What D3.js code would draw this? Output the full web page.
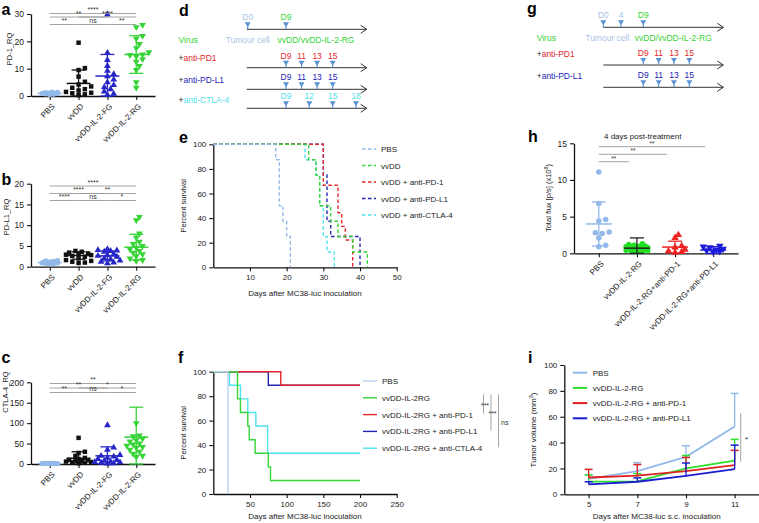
<!DOCTYPE html>
<html><head><meta charset="utf-8">
<script src="https://cdn.jsdelivr.net/npm/d3@7"></script>
<style>
body{margin:0;background:#fff;}
svg{display:block;}
</style></head><body>
<svg id="chart" width="759" height="523"></svg>
<script>
// ======================= DATA =======================
const catsABC = ["PBS", "vvDD", "vvDD-IL-2-FG", "vvDD-IL-2-RG"];

// panel a : PD-1_RQ
const aTicks = [0, 10, 20, 30];
const aPBS  = [0.5, 0.6, 0.7, 0.8, 0.9, 0.9, 1.0, 1.0, 1.1, 1.1, 1.2, 1.3, 1.4, 1.5];
const aVVDD = [19.5, 10.2, 9.5, 7.1, 5.2, 4.2, 3.5, 3.0, 2.5, 2.0, 1.5, 1.2, 1.0, 0.6, 0.3];
const aFG   = [29.8, 15.8, 13.2, 11.0, 9.2, 8.0, 7.2, 6.0, 5.0, 4.0, 3.2, 2.5, 1.6, 0.8, 0.4];
const aRG   = [26, 25.2, 22, 21, 19, 17.5, 16, 15.2, 15, 14.5, 13.5, 12.5, 11, 9.5, 5, 3];
const aMean = [1.0, 4.6, 7.3, 15.2];
const aSD   = [0.3, 4.9, 7.9, 6.9];
const aSigFrom = [0, 0, 1, 0, 1, 2];
const aSigTo   = [3, 2, 3, 1, 2, 3];
const aSigLvl  = [0, 1, 1, 2, 2, 2];
const aSigText = ["****", "**", "****", "**", "ns", "**"];

// panel b : PD-L1_RQ
const bTicks = [0, 5, 10, 15, 20];
const bPBS  = [0.6, 0.7, 0.8, 0.9, 0.9, 1.0, 1.0, 1.1, 1.1, 1.2, 1.3, 1.4, 1.5];
const bVVDD = [3.8, 3.6, 3.4, 3.2, 3.0, 2.9, 2.8, 2.6, 2.4, 2.0, 1.6, 1.4, 1.2, 1.0, 0.9];
const bFG   = [4.2, 4.0, 3.9, 3.8, 3.6, 3.0, 2.8, 2.6, 2.4, 2.0, 1.8, 1.5, 1.2, 1.0, 0.8];
const bRG   = [12.0, 11.2, 8.0, 7.0, 6.0, 5.5, 5.0, 4.6, 4.2, 3.8, 3.4, 3.0, 2.5, 2.0, 1.6, 1.4];
const bMean = [1.0, 2.7, 2.6, 4.7];
const bSD   = [0.3, 0.9, 1.2, 3.1];
const bSigFrom = [0, 0, 1, 0, 1, 2];
const bSigTo   = [3, 2, 3, 1, 2, 3];
const bSigLvl  = [0, 1, 1, 2, 2, 2];
const bSigText = ["****", "****", "**", "****", "ns", "*"];

// panel c : CTLA-4_RQ
const cTicks = [0, 50, 100, 150, 200];
const cPBS  = [0.5, 0.8, 1.0, 1.0, 1.2, 1.5, 2.0, 0.7, 1.1, 1.3, 0.9, 1.6];
const cVVDD = [64, 30, 27, 20, 15, 12, 10, 9, 8, 7, 6, 5, 4, 3, 2];
const cFG   = [95, 40, 35, 22, 20, 18, 15, 12, 10, 8, 6, 5, 4, 3, 2, 1];
const cRG   = [100, 70, 68, 62, 58, 55, 50, 48, 45, 42, 40, 35, 30, 25, 20, 17];
const cMean = [1.0, 14, 20, 66];
const cSD   = [0.5, 16, 22, 73];
const cSigFrom = [0, 0, 1, 0, 1, 2];
const cSigTo   = [3, 2, 3, 1, 2, 3];
const cSigLvl  = [0, 1, 1, 2, 2, 2];
const cSigText = ["**", "**", "*", "**", "ns", "*"];

// panel d : treatment schedule
const dRow0Days = [0, 9];      const dRow0Labels = ["D0", "D9"];
const dPD1Days  = [9, 11, 13, 15]; const dPD1Labels  = ["D9", "11", "13", "15"];
const dPDL1Days = [9, 11, 13, 15]; const dPDL1Labels = ["D9", "11", "13", "15"];
const dCTLADays = [9, 12, 15, 18]; const dCTLALabels = ["D9", "12", "15", "18"];

// panel e : survival, vvDD combos  [day, percent]
const eNames = ["PBS", "vvDD", "vvDD + anti-PD-1", "vvDD + anti-PD-L1", "vvDD + anti-CTLA-4"];
const eXTicks = [0, 10, 20, 30, 40, 50];
const ePBS  = [[0,100],[17,87.5],[18,50],[19,37.5],[20,25],[21,0]];
const eVVDD = [[0,100],[26,87.5],[28,75],[29,50],[32,37.5],[34,25],[38,12.5],[42,0]];
const ePD1  = [[0,100],[30,66.7],[34,44.4],[35,33.3],[36,22.2],[38,0]];
const ePDL1 = [[0,100],[30,75],[31,37.5],[32,25],[40,0]];
const eCTLA = [[0,100],[25,87.5],[28,75],[29,50],[30,25],[31,12.5],[33,0]];

// panel f : survival, vvDD-IL-2RG combos
const fNames = ["PBS", "vvDD-IL-2RG", "vvDD-IL-2RG + anti-PD-1", "vvDD-IL-2RG + anti-PD-L1", "vvDD-IL-2RG + anti-CTLA-4"];
const fXTicks = [0, 50, 100, 150, 200, 250];
const fPBS  = [[0,100],[20,0]];
const fRG   = [[0,100],[33,77.8],[37,66.7],[47,55.6],[49,44.4],[57,33.3],[75,22.2],[78,11.1],[200,11.1]];
const fPD1  = [[0,100],[92,88.9],[200,88.9]];
const fPDL1 = [[0,100],[75,88.9],[200,88.9]];
const fCTLA = [[0,100],[22,88.9],[37,77.8],[47,66.7],[58,55.6],[74,33.3],[200,33.3]];
const fSigTo   = [2, 3, 4];
const fSigText = ["***", "***", "ns"];

// panel g : schedule
const gRow0Days = [0, 4, 9];   const gRow0Labels = ["D0", "4", "D9"];
const gPD1Days  = [9, 11, 13, 15]; const gPD1Labels  = ["D9", "11", "13", "15"];
const gPDL1Days = [9, 11, 13, 15]; const gPDL1Labels = ["D9", "11", "13", "15"];

// panel h : total flux
const hCats = ["PBS", "vvDD-IL-2-RG", "vvDD-IL-2-RG+anti-PD-1", "vvDD-IL-2-RG+anti-PD-L1"];
const hTicks = [0, 5, 10, 15];
const hPBS  = [11.1, 6.8, 4.6, 4.4, 2.9, 2.8, 2.7, 2.1, 1.1, 0.9];
const hRG   = [1.3, 1.2, 1.1, 1.0, 0.95, 0.9, 0.85, 0.8, 0.7, 0.65, 0.6, 0.55, 0.5, 0.45, 0.4, 0.35, 0.3, 0.25, 0.2];
const hPD1  = [2.5, 2.1, 1.0, 0.8, 0.5, 0.3, 0.2, 0.1];
const hPDL1 = [1.0, 0.9, 0.8, 0.6, 0.5, 0.4, 0.3, 0.2];
const hMean = [4.0, 0.7, 0.85, 0.45];
const hSD   = [3.0, 1.4, 0.8, 0.45];
const hSigFrom = [0, 0, 0];
const hSigTo   = [3, 2, 1];
const hSigLvl  = [0, 1, 2];
const hSigText = ["**", "**", "**"];

// panel i : tumour volume
const iNames = ["PBS", "vvDD-IL-2-RG", "vvDD-IL-2-RG + anti-PD-1", "vvDD-IL-2-RG + anti-PD-L1"];
const iDays = [5, 7, 9, 11];
const iYTicks = [0, 20, 40, 60, 80, 100];
const iPBS   = [12, 18, 29, 52.5];   const iPBSErr  = [3, 6.5, 8.5, 25.5];
const iRG    = [9.8, 10, 20, 26];    const iRGErr   = [5.2, 6, 10, 16.5];
const iPD1   = [13, 14.4, 18, 22.6]; const iPD1Err  = [6.3, 8.6, 10.5, 11.4];
const iPDL1  = [7.7, 9.7, 14.2, 19.4]; const iPDL1Err = [2, 3, 10, 18.6];

// ======================= STYLE =======================
const FONT = "'Liberation Sans', Arial, Helvetica, sans-serif";
const C = {
  pbs: "#92b9ea", black: "#111111", blue: "#2626c8", green: "#36d436",
  red: "#e3262b", dblue: "#2424b4", cyan: "#4fe2ee", mark: "#5a92d4",
  tumour: "#a7c3e6", grey: "#9a9a9a", pbsF: "#b9d3f0"
};
const svg = d3.select("#chart").style("font-family", FONT);

function styleAxis(sel, fs) {
  sel.attr("font-family", null).attr("font-size", null);
  sel.select(".domain").attr("stroke", "#111").attr("stroke-width", 1.3);
  sel.selectAll(".tick line").attr("stroke", "#111").attr("stroke-width", 1.1);
  sel.selectAll(".tick text").attr("fill", "#222").style("font-size", fs + "px").style("font-family", FONT);
}
function text(g, x, y, s, fs, fill, anchor, weight) {
  return g.append("text").attr("x", x).attr("y", y).text(s)
    .style("font-size", fs + "px").attr("fill", fill || "#222")
    .attr("text-anchor", anchor || "start").style("font-weight", weight || "normal");
}
function panelLetter(x, y, s) { text(svg, x, y, s, 16, "#000", "start", "bold"); }

function dodge(vals, y, r, maxOff) {
  const order = d3.range(vals.length).sort((a, b) => vals[a] - vals[b]);
  const placed = [], off = [];
  order.forEach(i => {
    const py = y(vals[i]);
    let best = 0, bestD = -1;
    for (let k = 0; k < 60; k++) {
      const dx = (k === 0 ? 0 : (k % 2 ? 1 : -1) * Math.ceil(k / 2)) * r * 0.75;
      if (Math.abs(dx) > maxOff) break;
      const dmin = placed.length ? d3.min(placed, p => Math.hypot(p.dx - dx, p.py - py)) : Infinity;
      if (dmin >= r) { best = dx; bestD = Infinity; break; }
      if (dmin > bestD) { bestD = dmin; best = dx; }
    }
    off[i] = best; placed.push({ dx: best, py });
  });
  return off;
}

// ======================= DOT PLOTS =======================
function dotPlot(o) {
  const g = svg.append("g");
  const x = d3.scalePoint().domain(o.cats).range([o.left, o.right]).padding(0.65);
  const y = d3.scaleLinear().domain([0, o.ticks[o.ticks.length - 1]]).range([o.bottom, o.top]);
  const ya = g.append("g").attr("transform", `translate(${o.left},0)`)
    .call(d3.axisLeft(y).tickValues(o.ticks).tickSize(4).tickSizeOuter(0).tickPadding(3));
  styleAxis(ya, 8.5);
  const xa = g.append("g").attr("transform", `translate(0,${o.bottom})`)
    .call(d3.axisBottom(x).tickSize(4).tickSizeOuter(0));
  styleAxis(xa, o.xfs || 8);
  xa.selectAll(".tick text").attr("x", 0).attr("y", 0).attr("dy", "0.35em")
    .attr("transform", "translate(3,9) rotate(-45)").style("text-anchor", "end");
  g.append("text").attr("transform", `translate(${o.ylabX},${o.ylabY}) rotate(-90)`)
    .attr("text-anchor", "middle").style("font-size", (o.ylabFs || 7.5) + "px").attr("fill", "#222")
    .call(t => { if (o.ylabParts) { o.ylabParts(t); } else t.text(o.ylab); });

  o.values.forEach((vals, i) => {
    const cx = x(o.cats[i]);
    const offs = dodge(vals, y, o.dodgeR[i], o.maxOff[i]);
    const sym = d3.symbol().type(o.shapes[i]).size(o.msize);
    g.append("g").selectAll("path").data(vals).join("path")
      .attr("d", sym)
      .attr("transform", (d, j) => `translate(${cx + offs[j]},${y(d)})${o.flip[i] ? " rotate(180)" : ""}`)
      .attr("fill", o.colors[i]);
    const m = o.mean[i], s = o.sd[i];
    const lo = y(Math.max(0, m - s)), hi = y(m + s);
    const ec = o.errColors ? o.errColors[i] : o.colors[i];
    const eg = g.append("g").attr("stroke", ec).attr("stroke-width", 1.3);
    eg.append("line").attr("x1", cx).attr("x2", cx).attr("y1", lo).attr("y2", hi);
    eg.append("line").attr("x1", cx - o.capW).attr("x2", cx + o.capW).attr("y1", hi).attr("y2", hi);
    eg.append("line").attr("x1", cx - o.capW).attr("x2", cx + o.capW).attr("y1", lo).attr("y2", lo);
    eg.append("line").attr("x1", cx - o.meanW).attr("x2", cx + o.meanW).attr("y1", y(m)).attr("y2", y(m)).attr("stroke-width", 1.5);
  });

  const sg = g.append("g");
  o.sigFrom.forEach((f, k) => {
    const x1 = x(o.cats[f]), x2 = x(o.cats[o.sigTo[k]]) - (o.sigTrim || 0);
    const ly = o.sigY[o.sigLvl[k]];
    sg.append("line").attr("x1", x1).attr("x2", x2).attr("y1", ly).attr("y2", ly)
      .attr("stroke", C.grey).attr("stroke-width", 0.9);
    text(sg, (x1 + x2) / 2, ly - 1.2, o.sigText[k], o.sigFs || 7, "#333", "middle");
  });
  return { x, y, g };
}

const abcCommon = {
  cats: catsABC, left: 31, right: 155,
  shapes: [d3.symbolCircle, d3.symbolSquare, d3.symbolTriangle, d3.symbolTriangle],
  flip: [false, false, false, true],
  colors: [C.pbs, C.black, C.blue, C.green],
  dodgeR: [2.6, 4.2, 4.2, 4.2], maxOff: [9, 13, 13, 13],
  msize: 20, capW: 7, meanW: 12
};

dotPlot(Object.assign({}, abcCommon, {
  top: 14, bottom: 96, ticks: aTicks, values: [aPBS, aVVDD, aFG, aRG], mean: aMean, sd: aSD,
  ylab: "PD-1_RQ", ylabX: 12, ylabY: 49,
  sigFrom: aSigFrom, sigTo: aSigTo, sigLvl: aSigLvl, sigText: aSigText, sigY: [13.5, 17, 24.5]
}));
dotPlot(Object.assign({}, abcCommon, {
  top: 183.7, bottom: 266.7, ticks: bTicks, values: [bPBS, bVVDD, bFG, bRG], mean: bMean, sd: bSD,
  ylab: "PD-L1_RQ", ylabX: 9, ylabY: 217,
  sigFrom: bSigFrom, sigTo: bSigTo, sigLvl: bSigLvl, sigText: bSigText, sigY: [186, 193.5, 200.5]
}));
dotPlot(Object.assign({}, abcCommon, {
  top: 382.3, bottom: 464, ticks: cTicks, values: [cPBS, cVVDD, cFG, cRG], mean: cMean, sd: cSD,
  ylab: "CTLA-4_RQ", ylabX: 8, ylabY: 392,
  sigFrom: cSigFrom, sigTo: cSigTo, sigLvl: cSigLvl, sigText: cSigText, sigY: [383.5, 388, 392.5]
}));

// panel h
dotPlot({
  cats: hCats, left: 574, right: 738, top: 143.3, bottom: 253.3, ticks: hTicks,
  values: [hPBS, hRG, hPD1, hPDL1], mean: hMean, sd: hSD,
  shapes: [d3.symbolCircle, d3.symbolCircle, d3.symbolTriangle, d3.symbolTriangle],
  flip: [false, false, false, true],
  colors: [C.pbs, "#22e022", "#ee2222", "#1c1cd8"],
  errColors: [C.pbs, "#222", "#ee2222", "#1c1cd8"],
  dodgeR: [4.6, 3.6, 4.4, 4.4], maxOff: [12, 11, 11, 11],
  msize: 24, capW: 7, meanW: 13, xfs: 8,
  ylabX: 551, ylabY: 198, ylabFs: 7.5,
  ylabParts: t => { t.append("tspan").text("Total flux [p/s] (x10");
                    t.append("tspan").attr("dy", -3).style("font-size", "5.5px").text("8");
                    t.append("tspan").attr("dy", 3).text(")"); },
  sigFrom: hSigFrom, sigTo: hSigTo, sigLvl: hSigLvl, sigText: hSigText,
  sigY: [146.7, 154.3, 161.7], sigTrim: 8, sigFs: 6.5
});
text(svg, 642.7, 139, "4 days post-treatment", 8, "#222", "middle");

// ======================= SURVIVAL =======================
function survival(o) {
  const g = svg.append("g");
  const x = d3.scaleLinear().domain([o.xTicks[0], o.xTicks[o.xTicks.length - 1]]).range([o.left, o.right]);
  const y = d3.scaleLinear().domain([0, 100]).range([o.bottom, o.top]);
  const ya = g.append("g").attr("transform", `translate(${o.left},0)`)
    .call(d3.axisLeft(y).tickValues([0, 20, 40, 60, 80, 100]).tickSize(4).tickSizeOuter(0).tickPadding(3));
  styleAxis(ya, 8);
  const xa = g.append("g").attr("transform", `translate(0,${o.bottom})`)
    .call(d3.axisBottom(x).tickValues(o.xTicks.slice(1)).tickSize(4).tickSizeOuter(0).tickPadding(3));
  styleAxis(xa, 8);
  g.append("text").attr("transform", `translate(${o.left - 27},${(o.top + o.bottom) / 2}) rotate(-90)`)
    .attr("text-anchor", "middle").style("font-size", "7.5px").attr("fill", "#222").text("Percent survival");
  text(g, (o.left + o.right) / 2, o.bottom + o.xlabDy, o.xlab, 8, "#222", "middle");
  const line = d3.line().x(d => x(d[0])).y(d => y(d[1])).curve(d3.curveStepAfter);
  o.order.forEach(i => {
    g.append("path").datum(o.series[i]).attr("d", line).attr("fill", "none")
      .attr("stroke", o.colors[i]).attr("stroke-width", o.sw).attr("stroke-dasharray", o.dash);
  });
  o.names.forEach((n, i) => {
    const ly = o.legY + i * o.legStep;
    g.append("line").attr("x1", o.legX).attr("x2", o.legX + 14).attr("y1", ly).attr("y2", ly)
      .attr("stroke", o.colors[i]).attr("stroke-width", o.sw).attr("stroke-dasharray", o.dash);
    text(g, o.legX + 19, ly + 3, n, 8, "#222");
  });
  return { x, y, g };
}

survival({
  left: 213.3, right: 396.7, top: 144.3, bottom: 267.3, xTicks: eXTicks,
  xlab: "Days after MC38-luc inoculation", xlabDy: 29,
  series: [ePBS, eVVDD, ePD1, ePDL1, eCTLA], names: eNames,
  colors: [C.pbs, C.green, C.red, C.dblue, C.cyan], order: [4, 3, 2, 1, 0],
  sw: 1.4, dash: "3.5,2.5", legX: 362, legY: 149, legStep: 16.5
});
survival({
  left: 213.3, right: 396.7, top: 371.7, bottom: 494, xTicks: fXTicks,
  xlab: "Days after MC38-luc inoculation", xlabDy: 25,
  series: [fPBS, fRG, fPD1, fPDL1, fCTLA], names: fNames,
  colors: [C.pbsF, C.green, C.red, C.dblue, C.cyan], order: [4, 3, 2, 1, 0],
  sw: 1.4, dash: null, legX: 363, legY: 381, legStep: 16.8
});
// f significance brackets (from vvDD-IL-2RG row to each combo row)
fSigTo.forEach((r, k) => {
  const y1 = 381 + 16.8 * 1 - 3.5, y2 = 381 + 16.8 * r - 1;
  const lx = 483.5 + k * 7.5;
  svg.append("line").attr("x1", lx).attr("x2", lx).attr("y1", y1).attr("y2", y2)
    .attr("stroke", C.grey).attr("stroke-width", 0.9);
  text(svg, lx + (k === 2 ? 2.5 : 1.5), (y1 + y2) / 2 + 4, fSigText[k], 7, "#333", k === 2 ? "start" : "middle");
});

// ======================= SCHEDULES =======================
function schedRow(g, sc, lineY, x0, x1, days, labels, labColors) {
  g.append("line").attr("x1", x0).attr("x2", x1).attr("y1", lineY).attr("y2", lineY)
    .attr("stroke", "#333").attr("stroke-width", 1);
  g.append("path").attr("d", `M${x1 - 6},${lineY - 4}L${x1},${lineY}L${x1 - 6},${lineY + 4}`)
    .attr("fill", "none").attr("stroke", "#333").attr("stroke-width", 1);
  days.forEach((d, i) => {
    const px = sc(d);
    g.append("path").attr("d", `M${px - 3},${lineY - 7}L${px + 3},${lineY - 7}L${px},${lineY - 2}Z`).attr("fill", C.mark);
    g.append("line").attr("x1", px).attr("x2", px).attr("y1", lineY - 3).attr("y2", lineY).attr("stroke", C.mark).attr("stroke-width", 1.2);
    text(g, px, lineY - 9, labels[i], 8.5, labColors[i], "middle");
  });
}
function rowLabel(g, x, y, s, color) {
  const t = g.append("text").attr("x", x).attr("y", y).style("font-size", "8.5px");
  t.append("tspan").attr("fill", "#222").text("+");
  t.append("tspan").attr("fill", color).text(s);
}

// panel d
{
  const g = svg.append("g");
  const sc = d3.scaleLinear().domain([0, 9, 18]).range([247.7, 286, 356]);
  const x0 = 246.7, x1 = 366.7;
  schedRow(g, sc, 29.3, x0, x1, dRow0Days, dRow0Labels, [C.tumour, C.green]);
  text(g, sc(0), 42.5, "Tumour cell", 8.5, C.tumour, "middle");
  text(g, sc(9) - 8.5, 42.5, "vvDD/vvDD-IL-2-RG", 8.5, C.green, "start");
  text(g, 178.5, 42.5, "Virus", 8.5, C.green, "start");
  schedRow(g, sc, 67.7, x0, x1, dPD1Days, dPD1Labels, dPD1Days.map(() => C.red));
  rowLabel(g, 178.5, 60.5, "anti-PD1", C.red);
  schedRow(g, sc, 89.3, x0, x1, dPDL1Days, dPDL1Labels, dPDL1Days.map(() => C.dblue));
  rowLabel(g, 178.5, 82.5, "anti-PD-L1", C.dblue);
  schedRow(g, sc, 108.3, x0, x1, dCTLADays, dCTLALabels, dCTLADays.map(() => C.cyan));
  rowLabel(g, 178.5, 102.5, "anti-CTLA-4", C.cyan);
}
// panel g
{
  const g = svg.append("g");
  const sc = d3.scaleLinear().domain([0, 4, 9, 15]).range([603.3, 621, 643.3, 689.3]);
  const x0 = 603.3, x1 = 723.3;
  schedRow(g, sc, 27.3, x0, x1, gRow0Days, gRow0Labels, [C.tumour, C.tumour, C.green]);
  text(g, sc(0) + 4, 40.5, "Tumour cell", 8.5, C.tumour, "middle");
  text(g, sc(9) - 8.5, 40.5, "vvDD/vvDD-IL-2-RG", 8.5, C.green, "start");
  text(g, 536.7, 40.5, "Virus", 8.5, C.green, "start");
  schedRow(g, sc, 65, x0, x1, gPD1Days, gPD1Labels, gPD1Days.map(() => C.red));
  rowLabel(g, 536.7, 56.5, "anti-PD1", C.red);
  schedRow(g, sc, 87.3, x0, x1, gPDL1Days, gPDL1Labels, gPDL1Days.map(() => C.dblue));
  rowLabel(g, 536.7, 79, "anti-PD-L1", C.dblue);
}

// ======================= PANEL i =======================
{
  const g = svg.append("g");
  const x = d3.scaleLinear().domain([4, 12]).range([564.3, 759]);
  const y = d3.scaleLinear().domain([0, 100]).range([494.3, 365]);
  const ya = g.append("g").attr("transform", "translate(564.3,0)")
    .call(d3.axisLeft(y).tickValues(iYTicks).tickSize(4).tickSizeOuter(0).tickPadding(3));
  styleAxis(ya, 8);
  const xa = g.append("g").attr("transform", "translate(0,494.3)")
    .call(d3.axisBottom(x).tickValues(iDays).tickSize(4).tickSizeOuter(0).tickPadding(3));
  styleAxis(xa, 8);
  const yl = g.append("text").attr("transform", "translate(536,430) rotate(-90)")
    .attr("text-anchor", "middle").style("font-size", "8px").attr("fill", "#222");
  yl.append("tspan").text("Tumor volume (mm");
  yl.append("tspan").attr("dy", -3).style("font-size", "5.5px").text("3");
  yl.append("tspan").attr("dy", 3).text(")");
  text(g, 656.7, 518.5, "Days after MC38-luc s.c. inoculation", 8, "#222", "middle");
  const series = [iPBS, iRG, iPD1, iPDL1];
  const errs = [iPBSErr, iRGErr, iPD1Err, iPDL1Err];
  const cols = [C.pbs, "#2ee02e", "#e02222", "#1c1cd0"];
  const line = d3.line().x((d, i) => x(iDays[i])).y(d => y(d));
  series.forEach((s, k) => {
    const c = cols[k];
    s.forEach((m, i) => {
      const px = x(iDays[i]), top = y(m + errs[k][i]);
      g.append("line").attr("x1", px).attr("x2", px).attr("y1", y(m)).attr("y2", top).attr("stroke", c).attr("stroke-width", 1.3);
      g.append("line").attr("x1", px - 4).attr("x2", px + 4).attr("y1", top).attr("y2", top).attr("stroke", c).attr("stroke-width", 1.5);
    });
    g.append("path").datum(s).attr("d", line).attr("fill", "none").attr("stroke", c).attr("stroke-width", 1.8);
  });
  iNames.forEach((n, i) => {
    const ly = 372.7 + i * 15.2;
    g.append("line").attr("x1", 572.7).attr("x2", 587.3).attr("y1", ly).attr("y2", ly).attr("stroke", cols[i]).attr("stroke-width", 2);
    text(g, 592.7, ly + 3, n, 8, "#222");
  });
  // significance at day 11
  g.append("line").attr("x1", 740.7).attr("x2", 740.7).attr("y1", 413.3).attr("y2", 461.7).attr("stroke", C.grey).attr("stroke-width", 0.9);
  text(g, 745, 442, "*", 8, "#333", "start");
}

// ======================= LETTERS =======================
panelLetter(1.5, 15, "a");
panelLetter(1.5, 185, "b");
panelLetter(1.5, 363, "c");
panelLetter(179, 16, "d");
panelLetter(179, 143, "e");
panelLetter(178, 363, "f");
panelLetter(527, 14, "g");
panelLetter(528, 141.5, "h");
panelLetter(528, 363, "i");
</script>
</body></html>
